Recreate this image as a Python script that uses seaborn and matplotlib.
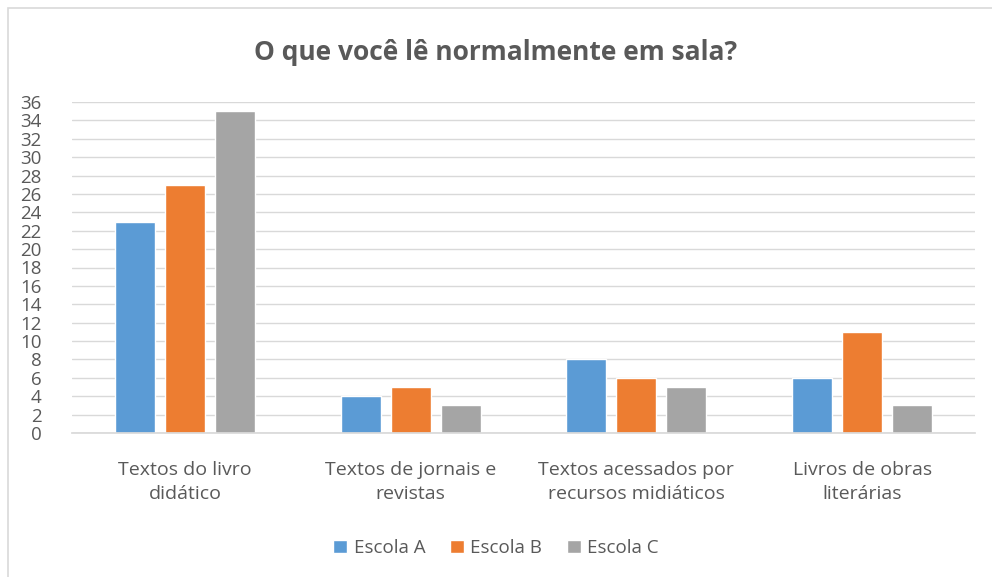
import matplotlib
matplotlib.use("Agg")
import matplotlib.pyplot as plt
import seaborn as sns
import pandas as pd
from matplotlib.patches import Rectangle

categories = ["Textos do livro\ndidático", "Textos de jornais e\nrevistas",
              "Textos acessados por\nrecursos midiáticos", "Livros de obras\nliterárias"]
series = ["Escola A", "Escola B", "Escola C"]
escola_a = [23, 4, 8, 6]
escola_b = [27, 5, 6, 11]
escola_c = [35, 3, 5, 3]
colors = ["#5B9BD5", "#ED7D31", "#A5A5A5"]
yticks = list(range(0, 37, 2))

rows = []
for s, vals in zip(series, [escola_a, escola_b, escola_c]):
    for c, v in zip(categories, vals):
        rows.append({"cat": c, "serie": s, "val": v})
df = pd.DataFrame(rows)

sns.set_theme(style="white")
plt.rcParams['font.family'] = ['Open Sans', 'DejaVu Sans']
txt = "#595959"

fig = plt.figure(figsize=(9.92, 5.77), dpi=100)
fig.patches.append(Rectangle((8/992, -0.1), 1.2, (577-8)/577 + 0.1, transform=fig.transFigure,
                             fill=False, edgecolor="#d9d9d9", linewidth=1.2))
ax = fig.add_axes([72/992, (577-433)/577, (975-72)/992, (433-102)/577])
sns.barplot(data=df, x="cat", y="val", hue="serie", palette=colors, width=0.665, gap=0.2,
            ax=ax, saturation=1, legend=True)
ax.set_ylim(0, 36)
ax.set_yticks(yticks)
ax.set_yticklabels([str(t) for t in yticks], fontsize=13.5, color=txt,
                   family=['DejaVu Sans Condensed', 'Liberation Sans Narrow', 'Open Sans'])
ax.yaxis.grid(True, color="#d9d9d9", linewidth=1)
ax.set_axisbelow(True)
for sp in ["top", "right", "left"]:
    ax.spines[sp].set_visible(False)
ax.spines["bottom"].set_color("#d9d9d9")
ax.tick_params(axis="both", length=0)
ax.tick_params(axis="x", pad=20, labelsize=14, colors=txt)
ax.tick_params(axis="y", pad=22)
for lab in ax.get_xticklabels():
    lab.set_linespacing(1.45)
ax.set_xlabel("")
ax.set_ylabel("")
ax.set_xlim(-0.5, 3.5)

fig.text(0.5, 1 - 53/577, "O que você lê normalmente em sala?", ha="center", va="center",
         fontsize=19, fontweight="bold", color=txt)

ax.legend(loc="center", bbox_to_anchor=(0.5, (577-548)/577), bbox_transform=fig.transFigure,
          ncol=3, frameon=False, fontsize=13.5, labelcolor=txt, handlelength=0.75, handleheight=0.75,
          handletextpad=0.35, columnspacing=1.3)

fig.savefig("out.png", dpi=100)
